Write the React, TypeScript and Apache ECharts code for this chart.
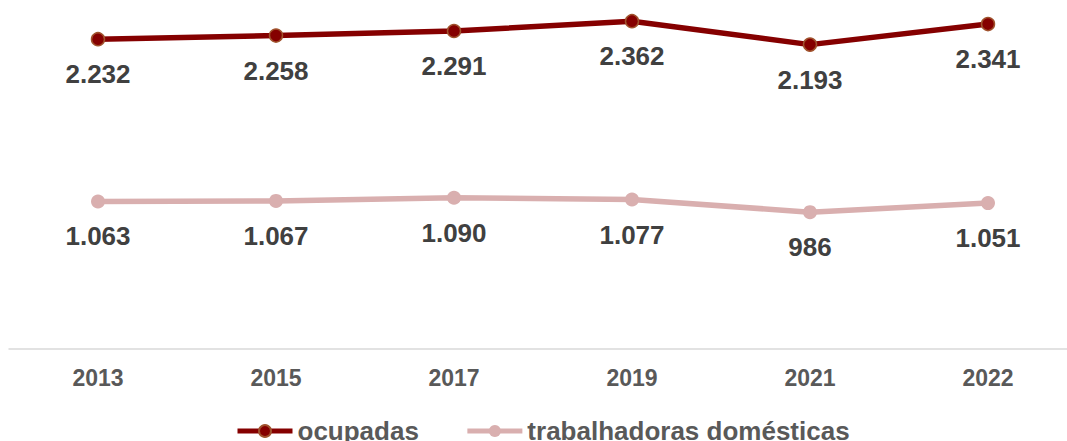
import React, { useEffect, useRef } from "react";
import * as echarts from "echarts";

const years = ["2013", "2015", "2017", "2019", "2021", "2022"];
const ocupadas = [2232, 2258, 2291, 2362, 2193, 2341];
const domesticas = [1063, 1067, 1090, 1077, 986, 1051];
const seriesNames = ["ocupadas", "trabalhadoras domésticas"];

const fmt = (v: number) => v.toString().replace(/\B(?=(\d{3})+(?!\d))/g, ".");

export default function App() {
  const ref = useRef<HTMLDivElement>(null);
  useEffect(() => {
    document.body.style.margin = "0";
    const chart = echarts.init(ref.current!, undefined, { renderer: "svg" });
    const labelCfg = {
      show: true,
      position: "bottom" as const,
      distance: 15,
      fontFamily: "Arial, 'Liberation Sans', sans-serif",
      fontWeight: "bold" as const,
      fontSize: 26,
      color: "#404040",
      formatter: (p: any) => fmt(p.value),
    };
    chart.setOption({
      animation: false,
      grid: { left: 9, top: 2, width: 1068, height: 347, containLabel: false },
      legend: {
        left: 230,
        top: 413,
        padding: [5, 5, 0, 5],
        itemWidth: 55,
        itemHeight: 15,
        itemGap: 46,
        lineStyle: { width: 5 },
        textStyle: {
          fontFamily: "Arial, 'Liberation Sans', sans-serif",
          fontWeight: "bold",
          fontSize: 26,
          lineHeight: 22,
          color: "#595959",
        },
        data: seriesNames,
      },
      xAxis: {
        type: "category",
        data: years,
        boundaryGap: true,
        axisLine: { show: true, lineStyle: { color: "#d9d9d9", width: 1.5 } },
        axisTick: { show: false },
        axisLabel: {
          margin: 17,
          fontFamily: "Arial, 'Liberation Sans', sans-serif",
          fontWeight: "bold",
          fontSize: 23,
          color: "#595959",
        },
      },
      yAxis: {
        type: "value",
        min: 0,
        max: 2500,
        show: false,
        splitLine: { show: false },
      },
      series: [
        {
          name: seriesNames[0],
          type: "line",
          data: ocupadas,
          symbol: "circle",
          symbolSize: 13,
          lineStyle: { color: "#850000", width: 5.5 },
          itemStyle: { color: "#850000", borderColor: "#a0522d", borderWidth: 1.5 },
          label: labelCfg,
        },
        {
          name: seriesNames[1],
          type: "line",
          data: domesticas,
          symbol: "circle",
          symbolSize: 14,
          lineStyle: { color: "#d9afaf", width: 5.5 },
          itemStyle: { color: "#d9afaf" },
          label: labelCfg,
        },
      ],
    });
    return () => chart.dispose();
  }, []);
  return (
    <div style={{ position: "fixed", left: 0, top: 0, width: 1067, height: 441, overflow: "hidden", background: "#fff" }}>
      <div ref={ref} style={{ width: 1090, height: 441 }} />
    </div>
  );
}
